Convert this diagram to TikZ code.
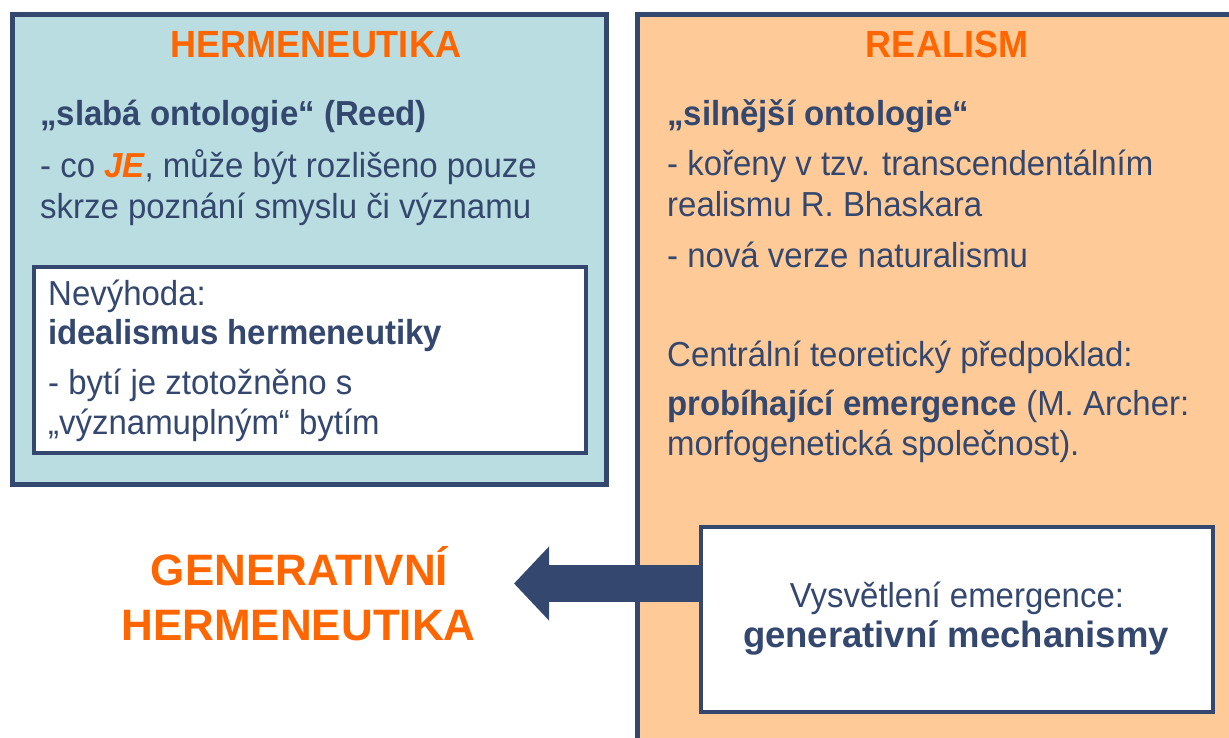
\documentclass[tikz,border=0pt]{standalone}
\usepackage{fontspec}
\setmainfont{Liberation Sans}
\newfontfamily\bodyfont[FakeStretch=0.95]{Liberation Sans}
\usetikzlibrary{arrows.meta}
\definecolor{navy}{HTML}{34476E}
\definecolor{lblue}{HTML}{B9DDE0}
\definecolor{peach}{HTML}{FECA98}
\definecolor{orng}{HTML}{FF6600}
\begin{document}
\begin{tikzpicture}[x=1pt,y=-1pt,
  frame/.style={draw=navy,line width=5pt,inner sep=0pt},
  wbox/.style={draw=navy,fill=white,line width=4.5pt,inner sep=0pt},
  txt/.style={anchor=base west,inner sep=0pt,text=navy,font=\bodyfont\fontsize{34.7}{40}\selectfont},
  ctxt/.style={anchor=base,inner sep=0pt,text=navy,font=\bodyfont\fontsize{34.7}{40}\selectfont},
  title/.style={anchor=base,inner sep=0pt,text=orng,font=\bodyfont\fontsize{37.9}{44}\selectfont\bfseries},
  big/.style={anchor=base,inner sep=0pt,text=orng,font=\fontsize{44}{52}\selectfont\bfseries},
  arrowbody/.style={draw=navy,line width=37pt,-{Triangle[length=35pt,width=72pt]}}]
\useasboundingbox (0,0) rectangle (1229,738);
% right box (extends beyond page)
\fill[peach] (637.5,14.5) rectangle (1229,738);
\draw[navy,line width=5pt] (637.5,740) |- (1232,14.5);
% left box
\node[frame,fill=lblue,minimum width=594pt,minimum height=470pt] (hbox) at (309.5,249.5) {};
\node[wbox,line width=4pt,minimum width=552pt,minimum height=186pt] (nbox) at (309.5,359.5) {};
% titles
\node[title] (ht) at (316,58) {HERMENEUTIKA};
\node[title] (rt) at (947,58) {REALISM};
% left text
\node[txt] (l1) at (40,126) {\bfseries „slabá ontologie“ (Reed)};
\node[txt] (l2) at (40,178) {- co {\bfseries\itshape\color{orng}JE}, může být rozlišeno pouze};
\node[txt] (l3) at (40,219) {skrze poznání smyslu či významu};
\node[txt] (n1) at (48,305) {Nevýhoda:};
\node[txt] (n2) at (48,344) {\bfseries idealismus hermeneutiky};
\node[txt] (n3) at (48,394) {- bytí je ztotožněno s};
\node[txt] (n4) at (48,434) {„významuplným“ bytím};
% right text
\node[txt] (r1) at (667,126) {\bfseries „silnější ontologie“};
\node[txt] (r2) at (667,176) {- kořeny v tzv. transcendentálním};
\node[txt] (r3) at (667,217) {realismu R. Bhaskara};
\node[txt] (r4) at (667,267) {- nová verze naturalismu};
\node[txt] (r5) at (667,366) {Centrální teoretický předpoklad:};
\node[txt] (r6) at (667,415) {\textbf{probíhající emergence} (M. Archer:};
\node[txt] (r7) at (667,455) {morfogenetická společnost).};
% bottom right box
\node[wbox,minimum width=512pt,minimum height=185pt] (gm) at (957,619.5) {};
\node[ctxt] (g1) at (957,607) {Vysvětlení emergence:};
\node[ctxt,font=\fontsize{36.5}{42}\selectfont\bfseries] (g2) at (956,647) {generativní mechanismy};
% generative hermeneutics
\node[big] (gh1) at (299.5,585) {GENERATIVNÍ};
\node[big] (gh2) at (298.5,640) {HERMENEUTIKA};
\coordinate (tip) at (514,583.5);
\draw[arrowbody] (gm.west |- tip) -- (tip);
\end{tikzpicture}
\end{document}
